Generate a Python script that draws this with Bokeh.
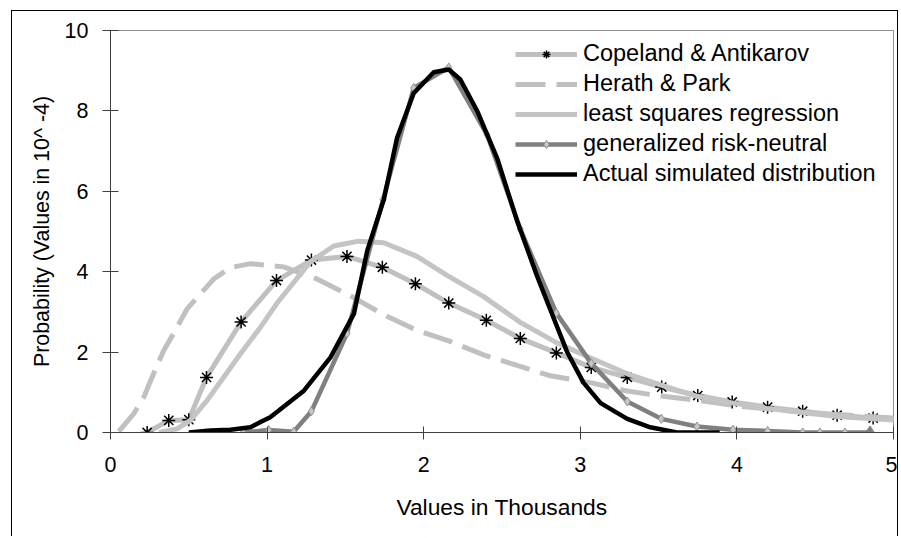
from bokeh.plotting import figure
from bokeh.models import Range1d, FixedTicker, Legend, LegendItem
from bokeh.embed import file_html
from bokeh.resources import INLINE

# ---- data (values in thousands / probability in 10^-4) ----
cop_x = [0.234, 0.372, 0.50, 0.613, 0.834, 1.06, 1.283, 1.51, 1.736, 1.947, 2.16,
         2.40, 2.617, 2.847, 3.07, 3.30, 3.52, 3.75, 3.97, 4.196, 4.42, 4.64, 4.87, 5.09]
cop_y = [0.00, 0.30, 0.32, 1.37, 2.75, 3.78, 4.29, 4.38, 4.11, 3.70, 3.22,
         2.79, 2.34, 1.98, 1.62, 1.37, 1.13, 0.92, 0.76, 0.63, 0.53, 0.43, 0.36, 0.31]

hp_x = [0.053, 0.149, 0.213, 0.266, 0.34, 0.425, 0.49, 0.575, 0.66, 0.766, 0.894,
        1.106, 1.319, 1.532, 1.745, 1.957, 2.16, 2.383, 2.596, 2.81, 3.064, 3.30,
        3.53, 3.75, 4.0, 4.5, 5.0]
hp_y = [0.03, 0.47, 0.88, 1.38, 2.04, 2.62, 3.08, 3.45, 3.82, 4.10, 4.20,
        4.12, 3.82, 3.40, 2.93, 2.54, 2.28, 1.93, 1.67, 1.41, 1.24, 1.03,
        0.90, 0.80, 0.66, 0.48, 0.36]

ls_x = [0.31, 0.425, 0.51, 0.617, 0.724, 0.83, 0.958, 1.064, 1.277, 1.426, 1.585,
        1.745, 1.957, 2.149, 2.383, 2.617, 2.851, 3.074, 3.30, 3.532, 3.745, 3.979,
        4.19, 4.43, 4.64, 4.87, 5.05]
ls_y = [0.00, 0.09, 0.30, 0.80, 1.38, 1.96, 2.62, 3.22, 4.25, 4.64, 4.76,
        4.72, 4.38, 3.91, 3.38, 2.74, 2.23, 1.84, 1.46, 1.16, 0.90, 0.73,
        0.60, 0.49, 0.40, 0.34, 0.30]

gen_x = [0.847, 1.01, 1.17, 1.283, 1.51, 1.74, 1.936, 2.16, 2.404, 2.617, 2.847,
         3.07, 3.30, 3.517, 3.745, 3.975, 4.196, 4.42, 4.53, 4.69, 4.85]
gen_y = [0.00, 0.06, 0.02, 0.53, 2.46, 5.79, 8.57, 9.08, 7.41, 5.06, 2.97,
         1.72, 0.77, 0.34, 0.15, 0.07, 0.04, 0.00, 0.00, 0.00, 0.00]

act_x = [0.50, 0.639, 0.766, 0.894, 0.958, 1.02, 1.235, 1.405, 1.554, 1.64, 1.745,
         1.83, 1.936, 2.064, 2.16, 2.234, 2.34, 2.47, 2.596, 2.723, 2.81, 2.915,
         3.02, 3.13, 3.30, 3.447, 3.617, 3.89]
act_y = [0.00, 0.05, 0.07, 0.13, 0.26, 0.38, 1.04, 1.87, 2.95, 4.53, 5.79,
         7.33, 8.44, 8.96, 9.03, 8.78, 8.01, 6.81, 5.27, 3.90, 3.04, 2.01,
         1.24, 0.73, 0.34, 0.13, 0.00, 0.00]

labels = ["Copeland & Antikarov", "Herath & Park", "least squares regression",
          "generalized risk-neutral", "Actual simulated distribution"]
x_ticks = [0, 1, 2, 3, 4, 5]
y_ticks = [0, 2, 4, 6, 8, 10]

FONT = "Liberation Sans"

p = figure(width=887, height=526, output_backend="svg", toolbar_location=None,
           x_range=Range1d(0, 5), y_range=Range1d(0, 10),
           min_border_left=98, min_border_top=19, min_border_right=6,
           min_border_bottom=105)
p.margin = (10, 0, 0, 11)
p.styles = {"border-left": "1px solid #000000", "border-top": "1px solid #000000",
            "border-right": "1px solid #000000"}
p.background_fill_color = "white"
p.border_fill_color = "white"
p.outline_line_color = "#909090"
p.outline_line_width = 1
p.xgrid.visible = False
p.ygrid.visible = False

for ax in (p.xaxis[0], p.yaxis[0]):
    ax.axis_line_color = "#404040"
    ax.major_tick_line_color = "#404040"
    ax.minor_tick_line_color = None
    ax.major_label_text_font = FONT
    ax.major_label_text_font_size = "21.5px"
    ax.major_label_text_color = "#000000"
    ax.axis_label_text_font = FONT
    ax.axis_label_text_font_style = "normal"
    ax.axis_label_text_color = "#000000"

p.xaxis.ticker = FixedTicker(ticks=x_ticks)
p.yaxis.ticker = FixedTicker(ticks=y_ticks)
p.xaxis.major_tick_in = 6
p.xaxis.major_tick_out = 7
p.yaxis.major_tick_in = 8
p.yaxis.major_tick_out = 8
p.xaxis.major_label_standoff = 17
p.yaxis.major_label_standoff = 14
p.xaxis.axis_label = "Values in Thousands"
p.yaxis.axis_label = "Probability (Values in 10^ -4)"
p.xaxis.axis_label_text_font_size = "22.8px"
p.yaxis.axis_label_text_font_size = "21.4px"
p.xaxis.axis_label_standoff = 19
p.yaxis.axis_label_standoff = 8

LIGHT = "#c0c0c0"

r_cop = p.line(cop_x, cop_y, line_color=LIGHT, line_width=5, line_join="round")
r_cop_m = p.scatter(cop_x, cop_y, marker="asterisk", size=13, line_color="black",
                    line_width=1.5)
r_hp = p.line(hp_x, hp_y, line_color=LIGHT, line_width=5, line_dash="30 11")
r_ls = p.line(ls_x, ls_y, line_color="#c4c4c4", line_width=5, line_join="round")
r_gen = p.line(gen_x, gen_y, line_color="#808080", line_width=4.5, line_join="round")
r_gen_m = p.scatter(gen_x, gen_y, marker="diamond", size=9, fill_color="#c8c8c8",
                    line_color="#909090", line_width=1)
p.scatter(gen_x[-1:], gen_y[-1:], marker="diamond", size=13, fill_color="#808080",
          line_color="#808080")
r_act = p.line(act_x, act_y, line_color="black", line_width=4.5, line_join="round")

legend = Legend(items=[
    LegendItem(label=labels[0], renderers=[r_cop, r_cop_m]),
    LegendItem(label=labels[1], renderers=[r_hp]),
    LegendItem(label=labels[2], renderers=[r_ls]),
    LegendItem(label=labels[3], renderers=[r_gen, r_gen_m]),
    LegendItem(label=labels[4], renderers=[r_act]),
], location=(405, 245))
legend.glyph_width = 62
legend.glyph_height = 20
legend.label_height = 20
legend.label_standoff = 6
legend.spacing = 3
legend.padding = 0
legend.margin = 0
legend.border_line_alpha = 0
legend.background_fill_alpha = 0
legend.label_text_font = FONT
legend.label_text_font_size = "23.5px"
legend.label_text_color = "black"
p.add_layout(legend)

open("out.html", "w").write(file_html(p, INLINE))
